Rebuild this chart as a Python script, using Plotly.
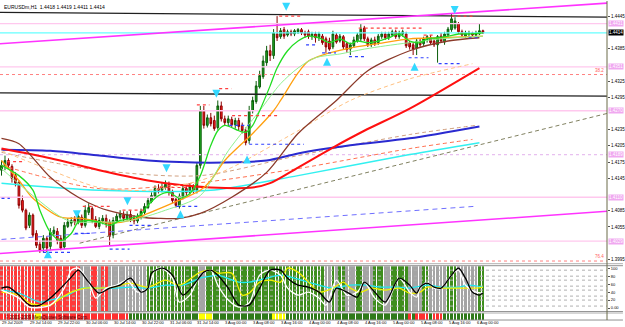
import plotly.graph_objects as go

# ---------------- DATA ----------------
title_text = "EURUSDm,H1  1.4418 1.4419 1.4411 1.4414"

bar_index = list(range(139))
opens = [1.4160,1.4169,1.4178,1.4167,1.4150,1.4137,1.4104,1.4086,1.4058,1.4077,
         1.4043,1.4023,1.4016,1.4034,1.4019,1.4043,1.4047,1.4034,1.4018,1.4056,
         1.4062,1.4069,1.4064,1.4073,1.4058,1.4082,1.4089,1.4069,1.4056,1.4066,
         1.4071,1.4064,1.4040,1.4066,1.4073,1.4078,1.4071,1.4078,1.4071,1.4066,
         1.4073,1.4082,1.4091,1.4102,1.4112,1.4126,1.4123,1.4128,1.4134,1.4119,
         1.4106,1.4093,1.4110,1.4126,1.4119,1.4130,1.4123,1.4169,1.4270,1.4243,
         1.4257,1.4252,1.4239,1.4279,1.4255,1.4248,1.4254,1.4244,1.4252,1.4243,
         1.4233,1.4215,1.4270,1.4287,1.4314,1.4333,1.4359,1.4381,1.4372,1.4412,
         1.4407,1.4420,1.4410,1.4416,1.4412,1.4416,1.4420,1.4414,1.4416,1.4407,
         1.4412,1.4405,1.4408,1.4403,1.4399,1.4388,1.4410,1.4399,1.4407,1.4394,
         1.4384,1.4390,1.4399,1.4403,1.4423,1.4403,1.4392,1.4401,1.4396,1.4407,
         1.4412,1.4405,1.4410,1.4416,1.4407,1.4412,1.4412,1.4396,1.4392,1.4386,
         1.4399,1.4394,1.4401,1.4405,1.4399,1.4392,1.4408,1.4397,1.4410,1.4420,
         1.4423,1.4431,1.4416,1.4408,1.4412,1.4414,1.4410,1.4412,1.4418]
highs = [1.4178,1.4187,1.4182,1.4171,1.4156,1.4141,1.4113,1.4089,1.4082,1.4080,
         1.4049,1.4030,1.4040,1.4038,1.4053,1.4056,1.4053,1.4040,1.4064,1.4071,
         1.4073,1.4075,1.4080,1.4078,1.4095,1.4099,1.4093,1.4075,1.4073,1.4077,
         1.4078,1.4069,1.4073,1.4080,1.4086,1.4084,1.4084,1.4086,1.4077,1.4080,
         1.4089,1.4099,1.4110,1.4119,1.4132,1.4134,1.4136,1.4141,1.4139,1.4124,
         1.4112,1.4117,1.4132,1.4130,1.4136,1.4134,1.4174,1.4279,1.4279,1.4263,
         1.4266,1.4261,1.4289,1.4287,1.4261,1.4261,1.4259,1.4257,1.4257,1.4248,
         1.4239,1.4279,1.4296,1.4325,1.4344,1.4372,1.4390,1.4392,1.4421,1.4445,
         1.4423,1.4425,1.4420,1.4420,1.4421,1.4423,1.4423,1.4418,1.4420,1.4416,
         1.4416,1.4416,1.4412,1.4407,1.4405,1.4418,1.4414,1.4412,1.4410,1.4397,
         1.4396,1.4407,1.4414,1.4431,1.4427,1.4407,1.4405,1.4407,1.4412,1.4416,
         1.4416,1.4416,1.4420,1.4420,1.4418,1.4420,1.4416,1.4399,1.4397,1.4403,
         1.4403,1.4407,1.4410,1.4410,1.4405,1.4410,1.4414,1.4416,1.4425,1.4449,
         1.4443,1.4434,1.4420,1.4418,1.4418,1.4416,1.4418,1.4431,1.4420]
lows = [1.4150,1.4160,1.4163,1.4137,1.4130,1.4089,1.4082,1.4049,1.4053,1.4036,
        1.4016,1.4007,1.4008,1.4008,1.4012,1.4038,1.4023,1.4012,1.4014,1.4053,
        1.4056,1.4058,1.4060,1.4053,1.4054,1.4077,1.4062,1.4053,1.4051,1.4060,
        1.4054,1.4021,1.4034,1.4062,1.4069,1.4066,1.4067,1.4064,1.4060,1.4062,
        1.4069,1.4078,1.4088,1.4099,1.4108,1.4117,1.4119,1.4124,1.4113,1.4099,
        1.4091,1.4089,1.4106,1.4113,1.4115,1.4117,1.4117,1.4163,1.4237,1.4239,
        1.4241,1.4233,1.4235,1.4250,1.4243,1.4241,1.4239,1.4237,1.4233,1.4228,
        1.4206,1.4209,1.4265,1.4283,1.4311,1.4329,1.4353,1.4362,1.4366,1.4399,
        1.4403,1.4403,1.4407,1.4408,1.4408,1.4412,1.4410,1.4405,1.4403,1.4401,
        1.4396,1.4399,1.4392,1.4377,1.4381,1.4384,1.4394,1.4396,1.4384,1.4377,
        1.4373,1.4386,1.4396,1.4399,1.4399,1.4388,1.4388,1.4390,1.4392,1.4403,
        1.4401,1.4401,1.4407,1.4403,1.4403,1.4407,1.4386,1.4383,1.4373,1.4373,
        1.4388,1.4390,1.4396,1.4392,1.4388,1.4359,1.4396,1.4392,1.4407,1.4416,
        1.4420,1.4412,1.4407,1.4405,1.4408,1.4407,1.4408,1.4410,1.4412]
closes = [1.4169,1.4178,1.4169,1.4145,1.4136,1.4095,1.4086,1.4053,1.4077,1.4040,
          1.4021,1.4012,1.4034,1.4016,1.4045,1.4049,1.4030,1.4016,1.4058,1.4064,
          1.4067,1.4064,1.4075,1.4058,1.4086,1.4091,1.4067,1.4056,1.4067,1.4071,
          1.4060,1.4038,1.4067,1.4075,1.4080,1.4071,1.4078,1.4069,1.4066,1.4075,
          1.4084,1.4093,1.4104,1.4113,1.4126,1.4123,1.4130,1.4134,1.4119,1.4104,
          1.4095,1.4112,1.4126,1.4119,1.4130,1.4123,1.4169,1.4270,1.4243,1.4257,
          1.4246,1.4237,1.4279,1.4255,1.4248,1.4255,1.4244,1.4252,1.4241,1.4233,
          1.4211,1.4270,1.4289,1.4316,1.4335,1.4362,1.4381,1.4372,1.4414,1.4405,
          1.4418,1.4408,1.4416,1.4412,1.4418,1.4420,1.4414,1.4410,1.4408,1.4412,
          1.4405,1.4412,1.4396,1.4388,1.4384,1.4412,1.4397,1.4408,1.4388,1.4383,
          1.4392,1.4401,1.4410,1.4421,1.4403,1.4392,1.4401,1.4394,1.4408,1.4412,
          1.4405,1.4412,1.4416,1.4407,1.4414,1.4416,1.4390,1.4388,1.4384,1.4399,
          1.4392,1.4403,1.4407,1.4396,1.4392,1.4407,1.4399,1.4412,1.4421,1.4440,
          1.4436,1.4416,1.4410,1.4414,1.4414,1.4410,1.4414,1.4418,1.4414]

# moving averages: (bar index, price)
ma_green_x = [0,5,9,11,14,17,20,22,25,28,31,34,37,40,42,45,48,51,54,57,60,62,64,68,70,72,74,77,79,82,85,88,91,94,97,100,102,105,108,111,114,117,120,122,125,128,131,134,138]
ma_green_y = [1.4169,1.4150,1.4123,1.4086,1.4045,1.4030,1.4043,1.4064,1.4067,1.4064,1.4058,1.4067,1.4071,1.4078,1.4095,1.4113,1.4119,1.4108,1.4117,1.4150,1.4206,1.4233,1.4243,1.4233,1.4230,1.4243,1.4270,1.4316,1.4349,1.4381,1.4399,1.4408,1.4405,1.4396,1.4403,1.4394,1.4399,1.4396,1.4399,1.4405,1.4412,1.4399,1.4396,1.4403,1.4405,1.4408,1.4412,1.4412,1.4414]
ma_pale_x = [0,9,19,28,37,47,57,65,74,80,85,90,97,104,110,117,126,138]
ma_pale_y = [1.4163,1.4113,1.4067,1.4064,1.4067,1.4086,1.4113,1.4196,1.4270,1.4320,1.4349,1.4368,1.4375,1.4384,1.4390,1.4396,1.4403,1.4408]
ma_orange_x = [0,5,9,17,23,31,37,42,49,57,60,64,72,78,80,85,88,93,100,108,117,126,138]
ma_orange_y = [1.4178,1.4141,1.4108,1.4073,1.4071,1.4062,1.4067,1.4080,1.4099,1.4123,1.4141,1.4178,1.4228,1.4270,1.4289,1.4340,1.4362,1.4375,1.4386,1.4394,1.4403,1.4405,1.4408]
ma_ltorange_x = [0,14,28,42,57,66,85,100,117,135]
ma_ltorange_y = [1.4196,1.4160,1.4128,1.4123,1.4141,1.4165,1.4233,1.4289,1.4329,1.4357]
ma_brown_x = [0,5,14,22,28,34,40,45,51,57,66,76,85,96,105,117,128,137]
ma_brown_y = [1.4219,1.4209,1.4147,1.4110,1.4091,1.4080,1.4073,1.4071,1.4071,1.4080,1.4110,1.4156,1.4228,1.4289,1.4344,1.4381,1.4399,1.4405]
ma_red_x = [0,14,28,42,52,60,72,77,85,95,104,117,137]
ma_red_y = [1.4200,1.4182,1.4160,1.4141,1.4132,1.4128,1.4128,1.4136,1.4165,1.4202,1.4233,1.4274,1.4349]
ma_blue_x = [0,14,28,42,60,76,85,100,117,137]
ma_blue_y = [1.4198,1.4196,1.4187,1.4178,1.4174,1.4178,1.4191,1.4206,1.4219,1.4241]
ma_tan_x = [0,28,57,85,117,136]
ma_tan_y = [1.4193,1.4160,1.4150,1.4187,1.4226,1.4243]
ma_redd_x = [0,28,57,85,117,135]
ma_redd_y = [1.4169,1.4126,1.4137,1.4163,1.4200,1.4217]
ma_cyan_x = [0,28,60,85,117,137]
ma_cyan_y = [1.4136,1.4123,1.4123,1.4150,1.4189,1.4211]

# trend / channel lines (start bar, end bar, start price, end price)
trend_gray = (22.4, 173.6, 1.4025, 1.4265)
trend_violet = (0, 135.3, 1.4032, 1.4093)
trend_mag_up = (-0.5, 173.6, 1.4394, 1.4469)
trend_mag_lo = (-0.5, 173.6, 1.4006, 1.4084)
trend_black_top = (-0.5, 173.6, 1.4452, 1.4443)
trend_black_mid = (-0.5, 173.6, 1.4303, 1.4297)

pink_levels = [1.4431, 1.4351, 1.4270, 1.4110, 1.4029]
pink_dotted_levels = [1.4189]
fib_levels = [1.4337, 1.3992]
fib_labels = ["38.2", "76.4"]
current_price = 1.4414

# dotted resistance (red) / support (blue) segments: (price, from bar, to bar)
res_segments = [(1.4176,1.6,5.9),(1.4093,23.3,31),(1.4086,34.7,41.6),(1.4128,45.3,53),
                (1.4281,56,59.6),(1.4311,62.4,65.9),(1.4261,66.1,79),(1.4445,79.6,86.1),
                (1.4423,102.4,120.4),(1.4410,121,123.9),(1.4445,129,135.3)]
sup_segments = [(1.4108,0,2.4),(1.4008,11.9,20.1),(1.4043,21,25.3),(1.4014,31,36.7),
                (1.4058,36.7,43.3),(1.4093,50.1,56.7),(1.4243,65.3,71),(1.4208,71,86.7),
                (1.4392,87.3,90.4),(1.4377,91.9,95.9),(1.4370,99.6,104.4),(1.4368,116.7,122.4),
                (1.4357,125.3,131.9),(1.4405,133.9,137.3)]
arrows_down = [(21.6,1.4071),(36.1,1.4095),(47.3,1.4156),(61.6,1.4294),(81.6,1.4455),(129.9,1.4449)]
arrows_up = [(13.3,1.4012),(51.3,1.4086),(70.4,1.4187),(93.3,1.4368),(118.4,1.4359)]

# price-axis labels that are visible (others are hidden under the level boxes)
price_ticks = [1.3995,1.4055,1.4085,1.4145,1.4175,1.4205,1.4235,
               1.4295,1.4325,1.4385,1.4445]

# oscillator window (0..100)
osc_black_x = [0,2,5,8,11,14,17,20,22,25,28,31,34,37,40,42,43,46,49,52,55,58,60,62,65,68,71,74,77,80,82,85,88,91,94,96,99,102,104,107,110,114,117,119,120,122,124,126,129,131,133,135,137,138]
osc_black_y = [50,52.5,32.5,7.5,7.5,25,50,77.5,95,65,37.5,50,57.5,75,40,50,87.5,100,82.5,32.5,57.5,90,95,82.5,50,7.5,7.5,50,95,95,75,57.5,52.5,40,15,50,40,27.5,65,40,15,75,57.5,37.5,52.5,62.5,52.5,50,82.5,100,75,40,32.5,37.5]
osc_white_x = [0,5,8,14,18,20,22,25,27,30,33,36,39,42,44,46,49,51,54,57,60,62,65,68,71,74,77,80,82,85,88,91,93,96,99,102,104,107,110,114,117,119,120,122,124,126,129,131,133,136,138]
osc_white_y = [45,25,2.5,7.5,50,95,100,65,25,50,57.5,70,40,50,95,100,75,15,32.5,82.5,95,57.5,20,2.5,12.5,82.5,95,82.5,50,32.5,40,25,7.5,70,32.5,40,65,25,7.5,75,40,27.5,50,65,50,50,82.5,95,57.5,40,37.5]
osc_yellow_x = [0,5,8,11,14,17,20,24,28,32,37,42,47,51,57,60,62,66,69,71,74,77,80,82,85,88,91,95,98,100,103,106,110,114,117,120,122,126,129,132,136,138]
osc_yellow_y = [40,32.5,12.5,7.5,7.5,25,40,50,50,52.5,62.5,52.5,70,57.5,90,95,87.5,87.5,32.5,37.5,65,70,65,100,90,65,40,50,65,50,40,50,45,50,37.5,40,52.5,50,50,50,50,52.5]
osc_cyan_x = [0,5,11,14,19,23,28,33,37,42,47,52,57,60,62,68,71,76,80,84,88,91,95,100,104,109,114,117,122,126,131,134,138]
osc_cyan_y = [45,37.5,15,20,32.5,50,50,50,52.5,50,57.5,57.5,75,80,82.5,65,65,75,82.5,75,65,57.5,50,57.5,57.5,52.5,52.5,50,57.5,52.5,52.5,57.5,52.5]
osc_levels = [95, 80, 70, 55, 45, 30, 20, 5]
osc_tick_vals = [100, 80, 60, 40, 20, 0]
osc_tick_text = ["100", "80", "60", "40", "20", "0.00"]

# background state per bar as runs: R red, S grey, G green, Y yellow
osc_bg_runs = [('R',23),('S',3),('R',2),('S',1),('R',2),('S',11),('G',15),('S',2),('G',34),
               ('S',2),('G',1),('S',1),('G',2),('S',3),('G',2),('S',3),('G',3),('S',2),
               ('G',5),('S',4),('G',2),('S',5),('G',3),('S',6),('G',2)]
strip_runs = [('R',10),('Y',2),('R',25),('G',20),('Y',4),('G',17),('Y',4),('G',35),
              ('R',1),('G',1),('R',4),('G',1),('R',3),('G',12)]

time_tick_bars = [0,8,16,24,32,40,48,56,64,72,80,88,96,104,112,120,128,136]
time_tick_text = ["29 Jul 2009","29 Jul 14:00","29 Jul 22:00","30 Jul 06:00","30 Jul 14:00",
                  "30 Jul 22:00","31 Jul 06:00","31 Jul 14:00","3 Aug 00:00","3 Aug 08:00",
                  "3 Aug 16:00","4 Aug 00:00","4 Aug 08:00","4 Aug 16:00","5 Aug 00:00",
                  "5 Aug 08:00","5 Aug 16:00","6 Aug 00:00"]

# ---------------- FIGURE ----------------
W, H = 625, 327
def pap(ypix):
    return 1 - ypix / H

X0, X1 = -0.43, 173.57
FONT = "Liberation Sans"
fig = go.Figure()

def expand(runs):
    out = []
    for s, n in runs:
        out += [s] * n
    return out

bg_col = {'R': '#ff3a3a', 'S': '#a4a4a4', 'G': '#3f8e1e', 'Y': '#ffff00'}
strip_col = {'R': '#ff3030', 'S': '#a4a4a4', 'G': '#2f7a1a', 'Y': '#ffff00'}

# oscillator background columns
fig.add_trace(go.Bar(x=bar_index, y=[112.5] * len(bar_index), base=-7.5, width=0.8,
                     marker=dict(color=[bg_col[s] for s in expand(osc_bg_runs)], line=dict(width=0)),
                     xaxis='x', yaxis='y2', hoverinfo='skip', showlegend=False))
fig.add_trace(go.Bar(x=bar_index, y=[1] * len(bar_index), base=0, width=0.8,
                     marker=dict(color=[strip_col[s] for s in expand(strip_runs)], line=dict(width=0)),
                     xaxis='x', yaxis='y3', hoverinfo='skip', showlegend=False))

def seg(x0, x1, y0, y1, color, width=1, dash='solid', axis='y'):
    fig.add_trace(go.Scatter(x=[x0, x1], y=[y0, y1], mode='lines',
                             line=dict(color=color, width=width, dash=dash),
                             xaxis='x', yaxis=axis, hoverinfo='skip', showlegend=False))

# horizontal levels
for lv in pink_levels:
    seg(X0, X1, lv, lv, '#ffc8ee', 1.3)
for lv in pink_dotted_levels:
    seg(X0, X1, lv, lv, '#e8c0f0', 1.2, 'dot')
for lv in fib_levels:
    seg(X0, X1, lv, lv, '#ff8080', 1, 'dot')
seg(X0, X1, current_price, current_price, '#66ffff', 1.3)

# trend lines
seg(*trend_black_top[:2], *trend_black_top[2:], '#202020', 1.3)
seg(*trend_black_mid[:2], *trend_black_mid[2:], '#202020', 1.3)
seg(*trend_mag_up[:2], *trend_mag_up[2:], '#ff33ff', 1.6)
seg(*trend_mag_lo[:2], *trend_mag_lo[2:], '#ff33ff', 1.6)
seg(*trend_gray[:2], *trend_gray[2:], '#808060', 1, '4px,3px')
seg(*trend_violet[:2], *trend_violet[2:], '#6f6fff', 1, '5px,4px')

# candles
fig.add_trace(go.Candlestick(x=bar_index, open=opens, high=highs, low=lows, close=closes,
                             increasing=dict(line=dict(color='#0b5d0b', width=1), fillcolor='#22aa22'),
                             decreasing=dict(line=dict(color='#8b0000', width=1), fillcolor='#ff2020'),
                             whiskerwidth=0, xaxis='x', yaxis='y', hoverinfo='skip', showlegend=False))

def ma(xs, ys, color, width=1, dash='solid'):
    fig.add_trace(go.Scatter(x=xs, y=ys, mode='lines', line=dict(color=color, width=width, dash=dash, shape='spline', smoothing=0.8),
                             xaxis='x', yaxis='y', hoverinfo='skip', showlegend=False))

ma(ma_cyan_x, ma_cyan_y, '#33f0f0', 1.5)
ma(ma_redd_x, ma_redd_y, '#ff7050', 1, '4px,3px')
ma(ma_tan_x, ma_tan_y, '#d0a080', 1, '4px,3px')
ma(ma_blue_x, ma_blue_y, '#2a2ad0', 2)
ma(ma_red_x, ma_red_y, '#ff1010', 2)
ma(ma_ltorange_x, ma_ltorange_y, '#ffc080', 1, '4px,3px')
ma(ma_brown_x, ma_brown_y, '#8b3a2a', 1.3)
ma(ma_orange_x, ma_orange_y, '#ffa010', 1.3)
ma(ma_pale_x, ma_pale_y, '#90f090', 1)
ma(ma_green_x, ma_green_y, '#22dd22', 1.3)

# support / resistance dotted segments
for p, a, b in res_segments:
    seg(a, b, p, p, '#ff4040', 1.2, 'dot')
for p, a, b in sup_segments:
    seg(a, b, p, p, '#3040ff', 1.2, 'dot')

fig.add_trace(go.Scatter(x=[a[0] for a in arrows_down], y=[a[1] for a in arrows_down], mode='markers',
                         marker=dict(symbol='arrow-down', size=8, color='#33d8ff'),
                         xaxis='x', yaxis='y', hoverinfo='skip', showlegend=False))
fig.add_trace(go.Scatter(x=[a[0] for a in arrows_up], y=[a[1] for a in arrows_up], mode='markers',
                         marker=dict(symbol='arrow-up', size=8, color='#33d8ff'),
                         xaxis='x', yaxis='y', hoverinfo='skip', showlegend=False))

# oscillator window
for lv in osc_levels:
    seg(X0, X1, lv, lv, '#b0b0b0', 1, 'dot', 'y2')
for xs, ys, c in [(osc_cyan_x, osc_cyan_y, '#20e8f0'), (osc_yellow_x, osc_yellow_y, '#f0f000'),
                  (osc_white_x, osc_white_y, '#ffffff'), (osc_black_x, osc_black_y, '#000000')]:
    fig.add_trace(go.Scatter(x=xs, y=ys, mode='lines', line=dict(color=c, width=1.3, shape='spline', smoothing=0.8),
                             xaxis='x', yaxis='y2', hoverinfo='skip', showlegend=False))

ann = []
ann.append(dict(text=title_text, x=0.004, y=pap(1), xref='paper', yref='paper', xanchor='left', yanchor='top',
                showarrow=False, font=dict(size=5, color='#000', family=FONT)))
for lv, t in zip(fib_levels, fib_labels):
    ann.append(dict(text=t, x=X1 - 0.3, y=lv, xref='x', yref='y', xanchor='right', yanchor='bottom',
                    showarrow=False, font=dict(size=4.5, color='#ff6060', family=FONT)))
for lv in pink_levels + pink_dotted_levels:
    ann.append(dict(text=f"{lv:.4f}", x=1.002, y=lv, xref='paper', yref='y', xanchor='left', yanchor='middle',
                    showarrow=False, bgcolor='#f0a8f0', font=dict(size=4.5, color='#ffffff', family=FONT), borderpad=0))
ann.append(dict(text=f"{current_price:.4f}", x=1.002, y=current_price, xref='paper', yref='y', xanchor='left',
                yanchor='middle', showarrow=False, bgcolor='#000000', font=dict(size=4.5, color='#ffffff', family=FONT), borderpad=0))
for b, t in zip(time_tick_bars, time_tick_text):
    ann.append(dict(text=t, x=b - 0.4, y=pap(326.5), xref='x', yref='paper', xanchor='left', yanchor='bottom',
                    showarrow=False, font=dict(size=4, color='#000', family=FONT)))
ann.append(dict(text="© 2001-2009 MetaQuotes Software Corp.", x=0.005, y=pap(316.5), xref='paper', yref='paper',
                xanchor='left', yanchor='middle', showarrow=False, font=dict(size=4.5, color='#400000', family=FONT)))

shapes = []
# separators
for yp, c in [(263.5, '#b0b0b0'), (265.5, '#909090'), (311.5, '#909090'), (313.0, '#b0b0b0'), (320.0, '#909090')]:
    shapes.append(dict(type='line', xref='paper', yref='paper', x0=0, x1=W / 609, y0=pap(yp), y1=pap(yp),
                       line=dict(color=c, width=1)))
shapes.append(dict(type='line', xref='paper', yref='paper', x0=1, x1=1, y0=pap(320), y1=1,
                   line=dict(color='#6a6a48', width=1)))

fig.update_layout(
    width=W, height=H, margin=dict(l=0, r=16, t=0, b=0),
    paper_bgcolor='white', plot_bgcolor='white', showlegend=False, bargap=0,
    annotations=ann, shapes=shapes,
    xaxis=dict(range=[X0, X1], showgrid=False, zeroline=False, showticklabels=False, ticks='',
               rangeslider=dict(visible=False), fixedrange=True),
    yaxis=dict(domain=[pap(263), 1], range=[1.3988, 1.4473], side='right', showgrid=False, zeroline=False,
               tickvals=price_ticks, ticktext=[f"{v:.4f}" for v in price_ticks], ticks='outside', ticklen=2,
               tickcolor='#555', tickfont=dict(size=4.5, color='#000', family=FONT), showline=False),
    yaxis2=dict(domain=[pap(311), pap(266)], range=[-7.5, 105], side='right', showgrid=False, zeroline=False,
                tickvals=osc_tick_vals, ticktext=osc_tick_text, ticks='outside', ticklen=2, tickcolor='#555',
                tickfont=dict(size=4, color='#000', family=FONT), anchor='x'),
    yaxis3=dict(domain=[pap(320), pap(313)], range=[0, 1], visible=False, anchor='x'),
)

fig.write_html("out.html")
